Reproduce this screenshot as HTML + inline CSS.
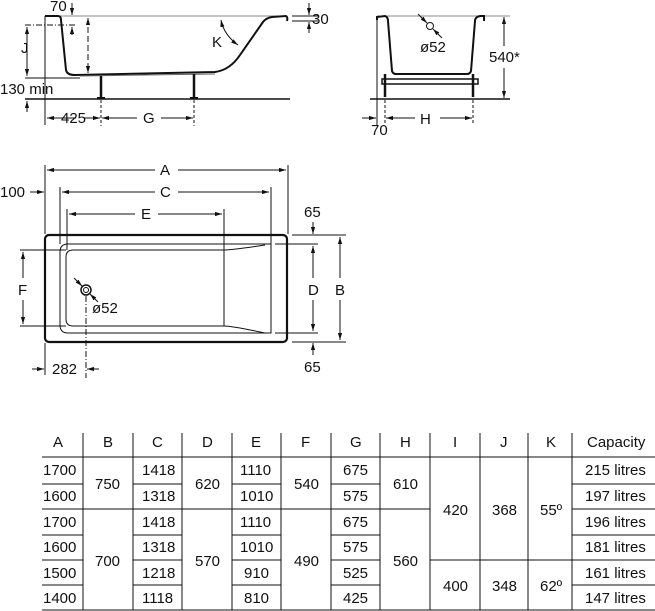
<!DOCTYPE html>
<html><head><meta charset="utf-8"><style>
html,body{margin:0;padding:0;background:#fff;width:655px;height:611px;overflow:hidden}
svg{display:block}
text{font-family:"Liberation Sans",sans-serif;font-size:15px;fill:#111}
</style></head><body>
<svg width="655" height="611" viewBox="0 0 655 611" xmlns="http://www.w3.org/2000/svg">
<defs>
<marker id="ar" viewBox="0 0 10 10" refX="10" refY="5" markerWidth="7" markerHeight="7" orient="auto-start-reverse"><path d="M0,2 L10,5 L0,8 z" fill="#111"/></marker>
</defs>
<g stroke="#111" fill="none" stroke-width="1">
<line x1="45" y1="16" x2="287" y2="16" stroke="#888"/>
<line x1="45" y1="16" x2="45" y2="125"/>
<path d="M45,16 L58,16 Q61,16 61,20 L66,70 Q67,75 75,75 L215,72 Q230,70 240,55 L263,22 Q266,18 272,17 L286,16 Q288,17 287,21" stroke-width="2"/>
<path d="M80,76 L215,74" stroke="#666"/>
<line x1="25" y1="99" x2="290" y2="99" stroke-width="1.5"/>
<line x1="101" y1="76" x2="101" y2="97" stroke-width="2.5"/>
<line x1="194" y1="74" x2="194" y2="97" stroke-width="2.5"/>
<line x1="97" y1="98" x2="105" y2="98" stroke-width="2"/>
<line x1="190" y1="98" x2="198" y2="98" stroke-width="2"/>
<line x1="101" y1="100" x2="101" y2="126" stroke-dasharray="3,2"/>
<line x1="194" y1="100" x2="194" y2="126" stroke-dasharray="3,2"/>
<line x1="25" y1="25" x2="75" y2="25" stroke-dasharray="6,2,1,2"/>
<line x1="25" y1="78" x2="80" y2="78"/>
<line x1="27" y1="27" x2="27" y2="76" marker-start="url(#ar)" marker-end="url(#ar)"/>
<line x1="27" y1="112" x2="27" y2="101" marker-end="url(#ar)"/>
<line x1="72" y1="3" x2="72" y2="15" marker-end="url(#ar)"/>
<line x1="72" y1="35" x2="72" y2="27" marker-end="url(#ar)"/>
<line x1="88" y1="18" x2="88" y2="73" stroke-dasharray="6,3" marker-start="url(#ar)" marker-end="url(#ar)"/>
<path d="M221,20 Q224,35 238,45" marker-start="url(#ar)" marker-end="url(#ar)"/>
<line x1="292" y1="16" x2="318" y2="16"/><line x1="292" y1="21" x2="318" y2="21"/>
<line x1="309" y1="3" x2="309" y2="15" marker-end="url(#ar)"/>
<line x1="309" y1="33" x2="309" y2="22" marker-end="url(#ar)"/>
<line x1="47" y1="118" x2="76" y2="118" marker-start="url(#ar)"/>
<line x1="84" y1="118" x2="100" y2="118" marker-end="url(#ar)"/>
<line x1="102" y1="118" x2="137" y2="118" marker-start="url(#ar)"/>
<line x1="161" y1="118" x2="193" y2="118" marker-end="url(#ar)"/>
<line x1="377" y1="16" x2="510" y2="16" stroke="#888"/>
<line x1="377" y1="16" x2="377" y2="125"/>
<path d="M377,20 L377,17 L385,16 Q388,17 388,21 L392,71 Q393,74 396,74 L467,74 Q470,74 471,71 L475,21 Q475,17 480,16 L484,16 L484,21" stroke-width="2"/>
<rect x="382" y="79" width="96" height="5" stroke-width="1.5"/>
<line x1="385" y1="74" x2="385" y2="97" stroke-width="2.5"/>
<line x1="473" y1="74" x2="473" y2="97" stroke-width="2.5"/>
<line x1="370" y1="99" x2="510" y2="99" stroke-width="1.5"/>
<line x1="385" y1="100" x2="385" y2="125" stroke-dasharray="3,2"/>
<line x1="473" y1="100" x2="473" y2="125" stroke-dasharray="3,2"/>
<line x1="504" y1="17" x2="504" y2="46" marker-start="url(#ar)"/>
<line x1="504" y1="68" x2="504" y2="98" marker-end="url(#ar)"/>
<line x1="386" y1="118" x2="415" y2="118" marker-start="url(#ar)"/>
<line x1="440" y1="118" x2="472" y2="118" marker-end="url(#ar)"/>
<line x1="362" y1="118" x2="376" y2="118" marker-end="url(#ar)"/>
<circle cx="430" cy="26" r="3.5"/>
<line x1="418" y1="14" x2="427" y2="23" marker-end="url(#ar)"/>
<line x1="442" y1="38" x2="433" y2="29" marker-end="url(#ar)"/>
<line x1="45" y1="165" x2="45" y2="234"/><line x1="288" y1="165" x2="288" y2="234"/>
<line x1="60" y1="187" x2="60" y2="244"/><line x1="271" y1="187" x2="271" y2="244"/>
<line x1="67" y1="209" x2="67" y2="250"/><line x1="224" y1="209" x2="224" y2="250"/>
<line x1="47" y1="170" x2="155" y2="170" marker-start="url(#ar)"/>
<line x1="178" y1="170" x2="286" y2="170" marker-end="url(#ar)"/>
<line x1="62" y1="192" x2="155" y2="192" marker-start="url(#ar)"/>
<line x1="178" y1="192" x2="269" y2="192" marker-end="url(#ar)"/>
<line x1="69" y1="214" x2="135" y2="214" marker-start="url(#ar)"/>
<line x1="158" y1="214" x2="222" y2="214" marker-end="url(#ar)"/>
<line x1="30" y1="192" x2="44" y2="192" marker-end="url(#ar)"/>
<rect x="45" y="235" width="242" height="107" rx="4" stroke-width="2.2"/>
<path d="M271,244 L68,244 Q60,244 60,252 L60,325 Q60,333 68,333 L271,333 Z" stroke-width="1"/>
<path d="M224,250 L73,250 Q66,250 66,257 L66,319 Q66,326 73,326 L224,326 L224,250" stroke-width="1"/>
<path d="M224,250 Q232,250 265,245 M224,326 Q232,326 265,333"/>
<line x1="292" y1="235" x2="346" y2="235"/><line x1="292" y1="342" x2="346" y2="342"/>
<line x1="275" y1="244" x2="318" y2="244"/><line x1="275" y1="333" x2="318" y2="333"/>
<line x1="20" y1="250" x2="66" y2="250"/><line x1="20" y1="326" x2="66" y2="326"/>
<line x1="313" y1="246" x2="313" y2="278" marker-start="url(#ar)"/>
<line x1="313" y1="300" x2="313" y2="331" marker-end="url(#ar)"/>
<line x1="340" y1="237" x2="340" y2="278" marker-start="url(#ar)"/>
<line x1="340" y1="300" x2="340" y2="340" marker-end="url(#ar)"/>
<line x1="23" y1="252" x2="23" y2="278" marker-start="url(#ar)"/>
<line x1="23" y1="300" x2="23" y2="324" marker-end="url(#ar)"/>
<line x1="313" y1="222" x2="313" y2="234" marker-end="url(#ar)"/>
<line x1="313" y1="355" x2="313" y2="343" marker-end="url(#ar)"/>
<circle cx="86" cy="290" r="5" stroke-width="1.5"/><circle cx="86" cy="290" r="2.5"/>
<line x1="74" y1="278" x2="82" y2="286" marker-end="url(#ar)"/>
<line x1="98" y1="302" x2="90" y2="294" marker-end="url(#ar)"/>
<line x1="86" y1="296" x2="86" y2="378" stroke-dasharray="6,2,1,2"/>
<line x1="45" y1="343" x2="45" y2="375"/>
<line x1="32" y1="369" x2="44" y2="369" marker-end="url(#ar)"/>
<line x1="99" y1="369" x2="87" y2="369" marker-end="url(#ar)"/>
<line x1="42" y1="457" x2="655" y2="457"/>
<line x1="42" y1="610" x2="655" y2="610"/>
<line x1="83" y1="433" x2="83" y2="610"/><line x1="133" y1="433" x2="133" y2="610"/>
<line x1="182" y1="433" x2="182" y2="610"/><line x1="232" y1="433" x2="232" y2="610"/>
<line x1="281" y1="433" x2="281" y2="610"/><line x1="331" y1="433" x2="331" y2="610"/>
<line x1="380" y1="433" x2="380" y2="610"/><line x1="430" y1="433" x2="430" y2="610"/>
<line x1="480" y1="433" x2="480" y2="610"/><line x1="528" y1="433" x2="528" y2="610"/>
<line x1="572" y1="433" x2="572" y2="610"/>
<line x1="42" y1="509" x2="430" y2="509"/>
<line x1="572" y1="509" x2="655" y2="509"/>
<line x1="430" y1="560" x2="572" y2="560"/>
<path d="M42,484H83M133,484H182M232,484H281M331,484H380M572,484H655"/>
<path d="M42,535H83M133,535H182M232,535H281M331,535H380M572,535H655"/>
<path d="M42,560H83M133,560H182M232,560H281M331,560H380M572,560H655"/>
<path d="M42,585H83M133,585H182M232,585H281M331,585H380M572,585H655"/>
</g>
<text x="50" y="11">70</text>
<text x="312" y="24">30</text>
<text x="21" y="53">J</text>
<text x="212" y="47">K</text>
<text x="0" y="94">130 min</text>
<text x="61" y="123">425</text>
<text x="143" y="123">G</text>
<text x="420" y="52">ø52</text>
<text x="489" y="62">540*</text>
<text x="420" y="124">H</text>
<text x="371" y="135">70</text>
<text x="0" y="197">100</text>
<text x="160" y="175">A</text>
<text x="160" y="197">C</text>
<text x="141" y="219">E</text>
<text x="304" y="217">65</text>
<text x="308" y="295">D</text>
<text x="335" y="295">B</text>
<text x="18" y="295">F</text>
<text x="92" y="313">ø52</text>
<text x="52" y="374">282</text>
<text x="304" y="372">65</text>
<g>
<text x="53" y="447">A</text><text x="103" y="447">B</text><text x="152" y="447">C</text><text x="202" y="447">D</text>
<text x="251" y="447">E</text><text x="301" y="447">F</text><text x="350" y="447">G</text><text x="400" y="447">H</text>
<text x="453" y="447">I</text><text x="500" y="447">J</text><text x="546" y="447">K</text><text x="587" y="447">Capacity</text>
<text x="43" y="475">1700</text><text x="43" y="501">1600</text><text x="43" y="527">1700</text>
<text x="43" y="552">1600</text><text x="43" y="578">1500</text><text x="43" y="603">1400</text>
<text x="95" y="489">750</text><text x="95" y="566">700</text>
<text x="142" y="475">1418</text><text x="142" y="501">1318</text><text x="142" y="527">1418</text>
<text x="142" y="552">1318</text><text x="142" y="578">1218</text><text x="142" y="603">1118</text>
<text x="195" y="489">620</text><text x="195" y="566">570</text>
<text x="240" y="475">1110</text><text x="240" y="501">1010</text><text x="240" y="527">1110</text>
<text x="240" y="552">1010</text><text x="244" y="578">910</text><text x="244" y="603">810</text>
<text x="294" y="489">540</text><text x="294" y="566">490</text>
<text x="343" y="475">675</text><text x="343" y="501">575</text><text x="343" y="527">675</text>
<text x="343" y="552">575</text><text x="343" y="578">525</text><text x="343" y="603">425</text>
<text x="393" y="489">610</text><text x="393" y="566">560</text>
<text x="443" y="515">420</text><text x="443" y="591">400</text>
<text x="492" y="515">368</text><text x="492" y="591">348</text>
<text x="540" y="515">55º</text><text x="540" y="591">62º</text>
<text x="585" y="475">215 litres</text><text x="585" y="501">197 litres</text><text x="585" y="527">196 litres</text>
<text x="585" y="552">181 litres</text><text x="585" y="578">161 litres</text><text x="585" y="603">147 litres</text>
</g>
</svg>
</body></html>
